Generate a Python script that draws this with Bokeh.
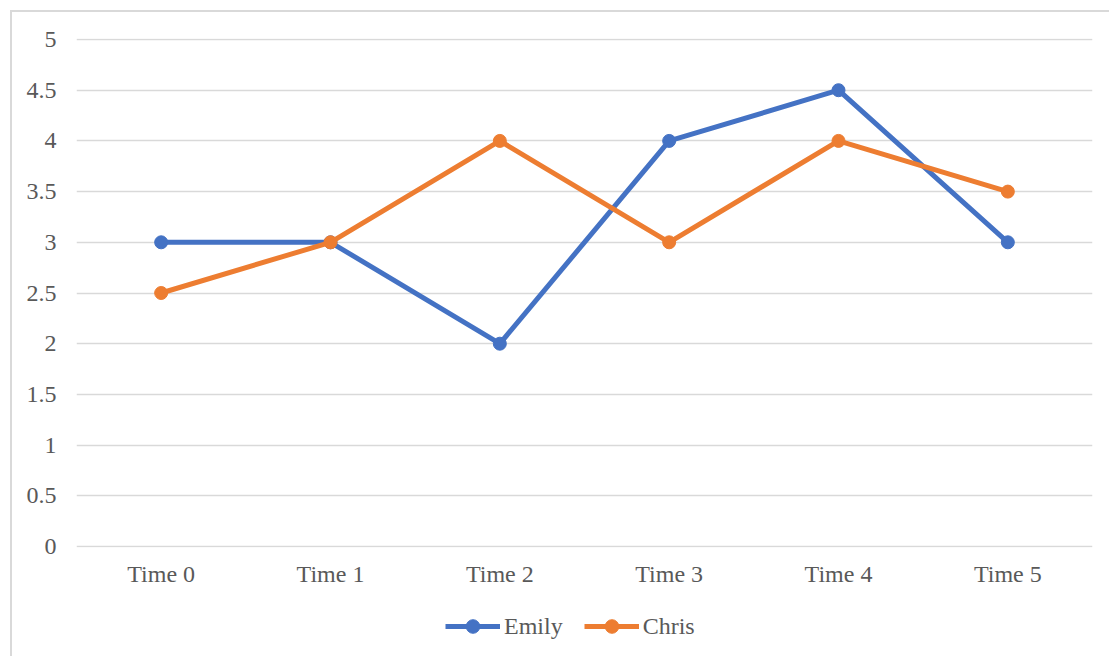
from bokeh.plotting import figure
from bokeh.models import Legend, LegendItem, Range1d, FixedTicker
from bokeh.layouts import column
from bokeh.embed import file_html
from bokeh.resources import INLINE

categories = ["Time 0", "Time 1", "Time 2", "Time 3", "Time 4", "Time 5"]
emily = [3, 3, 2, 4, 4.5, 3]
chris = [2.5, 3, 4, 3, 4, 3.5]
yticks = [0, 0.5, 1, 1.5, 2, 2.5, 3, 3.5, 4, 4.5, 5]
ytick_labels = ["0", "0.5", "1", "1.5", "2", "2.5", "3", "3.5", "4", "4.5", "5"]

FONT = "Liberation Serif"
TXT = "#595959"
GRID = "#d9d9d9"
BLUE = "#4472C4"
ORANGE = "#ED7D31"

p = figure(
    x_range=categories,
    y_range=Range1d(-0.01, 5.01),
    width=1097, height=595,
    output_backend="svg", toolbar_location=None,
    min_border_left=64, min_border_right=17,
    min_border_top=26, min_border_bottom=60,
)
p.outline_line_color = None
p.x_range.range_padding = 0.0

p.xgrid.grid_line_color = None
p.ygrid.grid_line_color = GRID
p.ygrid.grid_line_width = 1.5

p.yaxis.ticker = FixedTicker(ticks=yticks)
p.yaxis.major_label_overrides = {t: l for t, l in zip(yticks, ytick_labels)}
for ax in (p.xaxis, p.yaxis):
    ax.axis_line_color = None
    ax.major_tick_line_color = None
    ax.minor_tick_line_color = None
    ax.major_label_text_font = FONT
    ax.major_label_text_font_size = "24px"
    ax.major_label_text_color = TXT
p.yaxis.major_label_standoff = 14
p.xaxis.major_label_standoff = 7

p.line(categories, emily, line_color=BLUE, line_width=5)
p.scatter(categories, emily, size=13, fill_color=BLUE, line_color=BLUE)
p.line(categories, chris, line_color=ORANGE, line_width=5)
p.scatter(categories, chris, size=13, fill_color=ORANGE, line_color=ORANGE)

# legend strip below the plot (series drawn out of view, only the legend shows)
lg = figure(
    x_range=categories, y_range=Range1d(100, 101),
    width=1097, height=49,
    output_backend="svg", toolbar_location=None,
    min_border=0, min_border_left=0, min_border_right=0,
    min_border_top=0, min_border_bottom=0,
)
lg.outline_line_color = None
lg.axis.visible = False
lg.grid.visible = False
l1 = lg.line(categories, emily, line_color=BLUE, line_width=5)
s1 = lg.scatter(categories, emily, size=13, fill_color=BLUE, line_color=BLUE)
l2 = lg.line(categories, chris, line_color=ORANGE, line_width=5)
s2 = lg.scatter(categories, chris, size=13, fill_color=ORANGE, line_color=ORANGE)

legend = Legend(
    items=[LegendItem(label="Emily", renderers=[l1, s1]),
           LegendItem(label="Chris", renderers=[l2, s2])],
    orientation="horizontal", location=(369, 13),
    border_line_color=None, background_fill_alpha=0,
    label_text_font=FONT, label_text_font_size="24px", label_text_color=TXT,
    glyph_width=55, glyph_height=34, label_standoff=4, spacing=21,
    padding=0, margin=0,
)
lg.add_layout(legend, "center")

layout = column(
    p, lg, spacing=0,
    styles={"margin-left": "10px", "margin-top": "10px",
            "border-left": "2px solid #d9d9d9", "border-top": "2px solid #d9d9d9"},
)

open("out.html", "w").write(file_html(layout, INLINE))
